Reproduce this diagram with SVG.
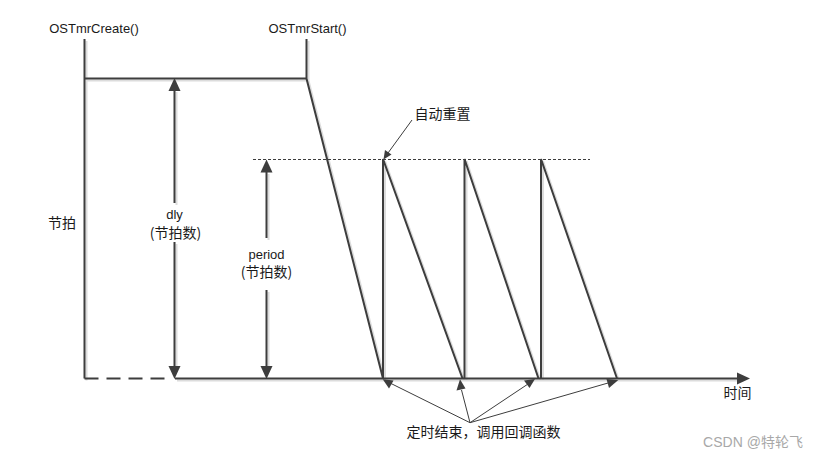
<svg xmlns="http://www.w3.org/2000/svg" width="818" height="457" viewBox="0 0 818 457">
<defs>
<style>
.ln{stroke:#3d3d3d;stroke-width:2;fill:none;stroke-linejoin:miter}
.th{stroke:#3d3d3d;stroke-width:1;fill:none}
.ds{stroke:#3d3d3d;stroke-width:1;fill:none;stroke-dasharray:3 2}
.hd{fill:#3d3d3d;stroke:none}
.tx{font-family:"Liberation Sans","Noto Sans CJK SC",sans-serif;font-size:13px;fill:#1a1a1a}
.cj{font-family:"Noto Sans CJK SC","Liberation Sans",sans-serif;font-size:14px;fill:#1a1a1a}
.wm{font-family:"Liberation Sans","Noto Sans CJK SC",sans-serif;font-size:14px;fill:#a8a8a8}
</style>
</defs>
<rect width="818" height="457" fill="#ffffff"/>
<g id="connectors">
<g id="shadow" transform="translate(2,2)" opacity="0.18">
<path class="ln" d="M84.5 39V378.5M84.5 78.5H306.5M306.5 39V78.5L383 378.5V159L462.5 378.5M464.5 378.5V159L538.5 378.5M541 378.5V159L617 378.5M175 378.5H737M174.5 90V203M174.5 242V366M266.5 172V238M266.5 290V366"/>
</g>
<path class="ln" d="M84.5 39V378.5"/>
<path class="ln" d="M84.5 78.5H306.5"/>
<path class="ln" d="M306.5 39V78.5L383 378.5V159L462.5 378.5"/>
<path class="ln" d="M464.5 378.5V159L538.5 378.5"/>
<path class="ln" d="M541 378.5V159L617 378.5"/>
<path class="ln" d="M84.5 378.5H168" stroke-dasharray="14 8"/>
<path class="ln" d="M175 378.5H738"/>
<polygon class="hd" points="750,378.5 737,372.5 737,384.5"/>
<path class="ds" d="M253 159.5H590"/>
<path class="ln" d="M174.5 90V203M174.5 242V366"/>
<polygon class="hd" points="174.5,78 168.5,91 180.5,91"/>
<polygon class="hd" points="174.5,379 168.5,366 180.5,366"/>
<path class="ln" d="M266.5 172V238M266.5 290V366"/>
<polygon class="hd" points="266.5,159.5 260.5,172.5 272.5,172.5"/>
<polygon class="hd" points="266.5,379 260.5,366 272.5,366"/>
<path class="th" d="M412 120L388 153"/>
<polygon class="hd" points="383.5,159.5 385,150 391.5,154.5"/>
<path class="th" d="M470 422.7L390 383M470 422.7L461.5 390M470 422.7L528 384M470 422.7L608 383"/>
<polygon class="hd" points="382.7,379.3 393.5,380.5 389,388.5"/>
<polygon class="hd" points="460,379.3 456.5,390.5 465.5,388.5"/>
<polygon class="hd" points="535,379 524,380.5 529.5,388"/>
<polygon class="hd" points="618.3,380 606.5,379 609,388"/>
</g>
<g id="node-create"><text class="tx" x="94" y="32.5" text-anchor="middle">OSTmrCreate()</text></g>
<g id="node-start"><text class="tx" x="307.5" y="32.5" text-anchor="middle">OSTmrStart()</text></g>
<g id="node-axis-y"><text class="cj" x="62" y="228" text-anchor="middle">节拍</text></g>
<g id="node-dly">
<text class="tx" x="174.5" y="218.5" text-anchor="middle">dly</text>
<text class="cj" x="175.5" y="237.5" text-anchor="middle" font-size="13.5">(节拍数)</text>
</g>
<g id="node-period">
<text class="tx" x="266.5" y="258.5" text-anchor="middle">period</text>
<text class="cj" x="266.5" y="276.5" text-anchor="middle" font-size="13.5">(节拍数)</text>
</g>
<g id="node-reset"><text class="cj" x="442.5" y="119" text-anchor="middle">自动重置</text></g>
<g id="node-axis-x"><text class="cj" x="737.5" y="398" text-anchor="middle">时间</text></g>
<g id="node-callback"><text class="cj" x="483.5" y="437" text-anchor="middle">定时结束，调用回调函数</text></g>
<g id="watermark"><text class="wm" x="753" y="446.5" text-anchor="middle">CSDN @特轮飞</text></g>
</svg>
